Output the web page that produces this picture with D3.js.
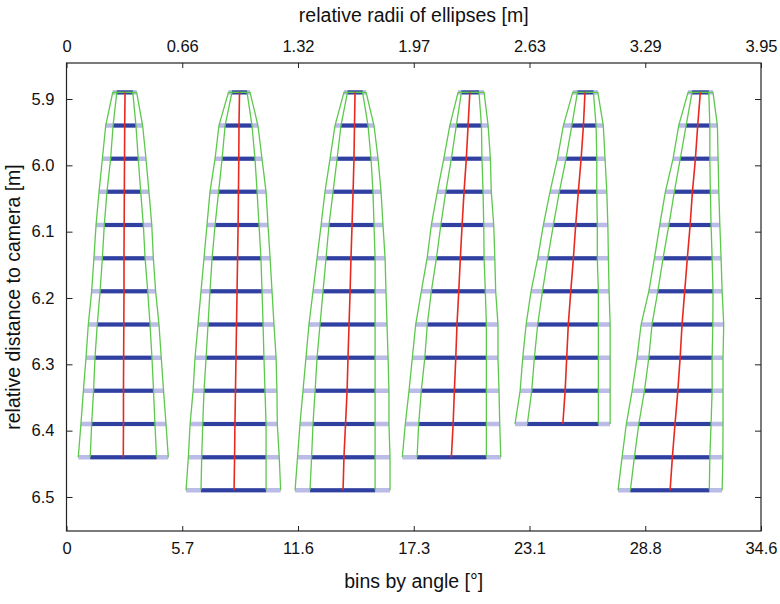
<!DOCTYPE html>
<html><head><meta charset="utf-8">
<script src="https://cdn.jsdelivr.net/npm/d3@7"></script>
<style>
body{margin:0;background:#fff;}
text{font-family:"Liberation Sans",Arial,sans-serif;fill:#111;}
</style></head>
<body><svg id="c" width="780" height="604"></svg>
<script>
// ---- data ----
const bottomTickLabels = ["0","5.7","11.6","17.3","23.1","28.8","34.6"];
const topTickLabels = ["0","0.66","1.32","1.97","2.63","3.29","3.95"];
const depthTicks = [5.9,6.0,6.1,6.2,6.3,6.4,6.5];
const rowDepths = [5.89,5.94,5.99,6.04,6.09,6.14,6.19,6.24,6.29,6.34,6.39,6.44,6.49];

// per glyph, per row: positions in meters on the "relative radii" axis
const outerLeft = [
 [0.263,0.223,0.204,0.185,0.168,0.156,0.143,0.124,0.111,0.096,0.082,0.067],
 [0.921,0.867,0.845,0.816,0.799,0.782,0.765,0.748,0.731,0.720,0.703,0.693,0.680],
 [1.578,1.527,1.499,1.470,1.448,1.425,1.402,1.379,1.362,1.345,1.328,1.314,1.300],
 [2.227,2.180,2.146,2.109,2.075,2.051,2.018,1.986,1.967,1.948,1.927,1.910],
 [2.879,2.826,2.792,2.750,2.712,2.680,2.642,2.614,2.595,2.580,2.551],
 [3.535,3.482,3.450,3.406,3.374,3.344,3.312,3.268,3.245,3.217,3.184,3.160,3.137]
];
const innerLeft = [
 [0.286,0.265,0.251,0.230,0.215,0.204,0.191,0.175,0.162,0.154,0.143,0.135],
 [0.941,0.902,0.885,0.865,0.845,0.828,0.816,0.805,0.794,0.782,0.775,0.769,0.765],
 [1.598,1.561,1.539,1.516,1.493,1.476,1.459,1.442,1.425,1.414,1.402,1.394,1.385],
 [2.246,2.217,2.189,2.157,2.129,2.104,2.075,2.052,2.038,2.018,2.003,1.994],
 [2.906,2.874,2.841,2.803,2.769,2.737,2.707,2.680,2.661,2.646,2.621],
 [3.558,3.524,3.491,3.457,3.426,3.393,3.363,3.330,3.312,3.287,3.255,3.230,3.207]
];
const center = [
 [0.333,0.331,0.330,0.329,0.328,0.327,0.327,0.326,0.325,0.324,0.324,0.323],
 [0.984,0.981,0.980,0.978,0.976,0.973,0.970,0.967,0.964,0.961,0.958,0.956,0.953],
 [1.641,1.638,1.635,1.630,1.624,1.618,1.613,1.607,1.601,1.596,1.587,1.578,1.573],
 [2.294,2.284,2.274,2.261,2.250,2.240,2.231,2.221,2.214,2.206,2.199,2.189],
 [2.949,2.940,2.927,2.911,2.896,2.883,2.868,2.854,2.845,2.836,2.823],
 [3.605,3.590,3.577,3.560,3.547,3.531,3.516,3.501,3.490,3.477,3.461,3.446,3.433]
];
const innerRight = [
 [0.377,0.395,0.408,0.422,0.437,0.447,0.462,0.475,0.486,0.495,0.503,0.512],
 [1.027,1.055,1.072,1.084,1.095,1.106,1.112,1.118,1.123,1.129,1.135,1.135,1.135],
 [1.684,1.715,1.732,1.743,1.749,1.755,1.755,1.755,1.755,1.755,1.755,1.755,1.755],
 [2.346,2.360,2.363,2.369,2.373,2.375,2.382,2.388,2.388,2.388,2.388,2.388],
 [2.997,3.012,3.016,3.016,3.019,3.019,3.025,3.025,3.025,3.025,3.025],
 [3.653,3.659,3.659,3.662,3.666,3.672,3.677,3.676,3.672,3.672,3.666,3.659,3.656]
];
const outerRight = [
 [0.399,0.433,0.452,0.469,0.485,0.494,0.507,0.526,0.539,0.552,0.566,0.579],
 [1.044,1.089,1.112,1.135,1.146,1.158,1.169,1.180,1.192,1.197,1.199,1.210,1.218],
 [1.704,1.749,1.772,1.789,1.800,1.812,1.817,1.823,1.829,1.834,1.834,1.840,1.840],
 [2.375,2.398,2.411,2.416,2.430,2.436,2.441,2.454,2.454,2.460,2.464,2.470],
 [3.022,3.053,3.063,3.073,3.079,3.082,3.086,3.092,3.092,3.092,3.092],
 [3.677,3.702,3.706,3.710,3.716,3.723,3.729,3.738,3.734,3.734,3.734,3.733,3.729]
];

// ---- layout ----
const L=66.5, R=761, T=63, B=531;
const svg=d3.select("#c");
const xM=d3.scaleLinear().domain([0,3.95]).range([L,R]);
const xDeg=d3.scaleLinear().domain([0,34.6]).range([L,R]);
const y=d3.scaleLinear().domain([5.8457,6.5513]).range([T,B]);

const degTicks=d3.range(7).map(k=>k*34.6/6);
const mTicks=d3.range(7).map(k=>k*3.95/6);

const glyphs=d3.range(6).map(g=>rowDepths.slice(0,center[g].length).map((d,i)=>({
  d, oL:outerLeft[g][i], iL:innerLeft[g][i], c:center[g][i], iR:innerRight[g][i], oR:outerRight[g][i]})));

const gg=svg.append("g").selectAll("g").data(glyphs).join("g");
gg.selectAll("line.light").data(d=>d).join("line").attr("class","light")
  .attr("x1",d=>xM(d.oL)).attr("x2",d=>xM(d.oR)).attr("y1",d=>y(d.d)).attr("y2",d=>y(d.d))
  .attr("stroke","#babbe6").attr("stroke-width",4.5);
gg.selectAll("line.dark").data(d=>d).join("line").attr("class","dark")
  .attr("x1",d=>xM(d.iL)).attr("x2",d=>xM(d.iR)).attr("y1",d=>y(d.d)).attr("y2",d=>y(d.d))
  .attr("stroke","#2f40a0").attr("stroke-width",4);

const line=d3.line().x(p=>p[0]).y(p=>p[1]);
gg.append("path").attr("fill","none").attr("stroke","#5cc84c").attr("stroke-width",1.3)
  .attr("d",rows=>line([...rows.slice().reverse().map(r=>[xM(r.oL),y(r.d)]),...rows.map(r=>[xM(r.oR),y(r.d)])]));
gg.append("path").attr("fill","none").attr("stroke","#5cc84c").attr("stroke-width",1.3)
  .attr("d",rows=>line([...rows.slice().reverse().map(r=>[xM(r.iL),y(r.d)]),...rows.map(r=>[xM(r.iR),y(r.d)])]));
gg.append("path").attr("fill","none").attr("stroke","#e8291f").attr("stroke-width",1.6)
  .attr("d",rows=>line(rows.map(r=>[xM(r.c),y(r.d)])));

// axes
function style(g){g.select(".domain").remove();g.selectAll("line").attr("stroke","#222");g.selectAll("text").style("font-size","16.5px").attr("fill","#111");}
svg.append("g").attr("transform",`translate(0,${B})`)
  .call(d3.axisBottom(xDeg).tickValues(degTicks).tickFormat((d,i)=>bottomTickLabels[i]).tickSize(-5).tickPadding(11)).call(style);
svg.append("g").attr("transform",`translate(0,${T})`)
  .call(d3.axisTop(xM).tickValues(mTicks).tickFormat((d,i)=>topTickLabels[i]).tickSize(-5).tickPadding(11)).call(style);
svg.append("g").attr("transform",`translate(${L},0)`)
  .call(d3.axisLeft(y).tickValues(depthTicks).tickFormat(d3.format(".1f")).tickSize(-6).tickPadding(12)).call(style);
svg.append("g").attr("transform",`translate(${R},0)`)
  .call(d3.axisRight(y).tickValues(depthTicks).tickFormat("").tickSize(-6)).call(style);
svg.append("rect").attr("x",L).attr("y",T).attr("width",R-L).attr("height",B-T)
  .attr("fill","none").attr("stroke","#222").attr("stroke-width",1.2);

svg.append("text").attr("x",(L+R)/2+0).attr("y",22).attr("text-anchor","middle").style("font-size","19.5px").text("relative radii of ellipses [m]");
svg.append("text").attr("x",(L+R)/2).attr("y",588).attr("text-anchor","middle").style("font-size","19.5px").text("bins by angle [°]");
svg.append("text").attr("transform",`translate(20,${(T+B)/2}) rotate(-90)`).attr("text-anchor","middle").style("font-size","19.5px").text("relative distance to camera [m]");
</script></body></html>
